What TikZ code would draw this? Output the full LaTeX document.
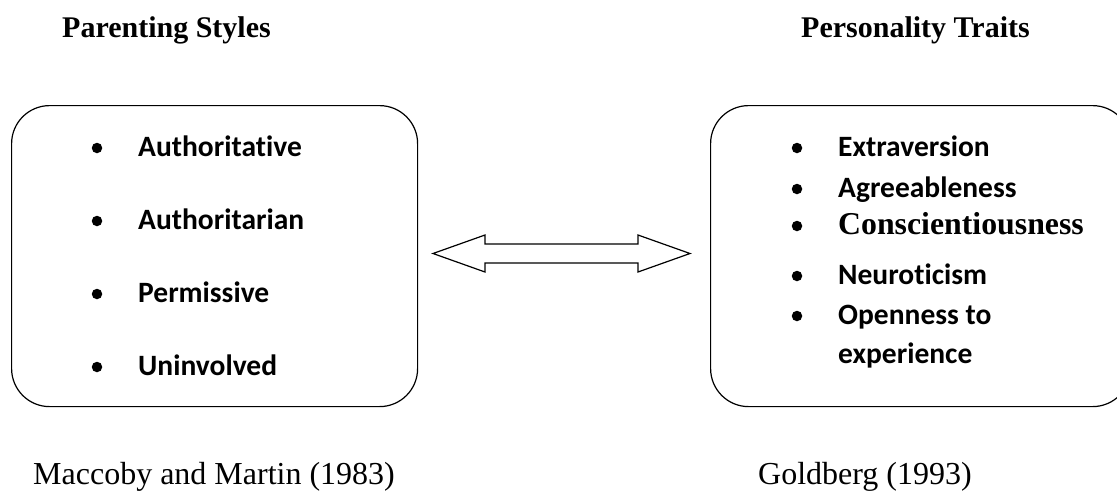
\documentclass[tikz,border=0pt]{standalone}
\usepackage{fontspec}
\setmainfont{Liberation Serif}
\newfontfamily\itemfont[Ligatures=NoCommon]{Carlito}

\tikzset{
  panel/.style={draw, line width=1.2pt, rounded corners=38pt, anchor=north west, inner sep=0pt},
  heading/.style={anchor=base west, inner sep=0pt, font=\fontsize{30}{36}\selectfont\bfseries},
  source/.style={anchor=base west, inner sep=0pt, font=\fontsize{32}{38}\selectfont},
  entry/.style={anchor=base west, inner sep=0pt, font=\itemfont\fontsize{29.5}{34}\selectfont\bfseries},
  dot/.style={circle, fill, inner sep=0pt, minimum size=10.5pt},
  outline/.style={draw, line width=1.2pt, line join=miter},
}

\begin{document}
\begin{tikzpicture}[x=1pt,y=-1pt]
    \useasboundingbox (0,0) rectangle (1117,491);
    % titles
    \node[heading] (lefttitle) at (62,37) {Parenting Styles};
    \node[heading] (righttitle) at (801,37) {Personality Traits};
    % boxes
    \node[panel, minimum width=406pt, minimum height=301pt] (styles) at (11,105) {};
    \node[panel, minimum width=420pt, minimum height=301pt] (traits) at (710,105) {};
    % left list
    \node[dot] (s1) at (97,148) {};
    \node[entry] (t1) at (138,156) {Authoritative};
    \node[dot] (s2) at (97,221) {};
    \node[entry] (t2) at (138,229) {Authoritarian};
    \node[dot] (s3) at (97,294) {};
    \node[entry] (t3) at (138,302) {Permissive};
    \node[dot] (s4) at (97,367) {};
    \node[entry] (t4) at (138,375) {Uninvolved};
    % right list
    \node[dot] (p1) at (797,148) {};
    \node[entry] (q1) at (838,156) {Extraversion};
    \node[dot] (p2) at (797,189) {};
    \node[entry] (q2) at (838,197) {Agreeableness};
    \node[dot] (p3) at (797,226) {};
    \node[anchor=base west, inner sep=0pt, font=\fontsize{31.8}{36}\selectfont\bfseries] (q3) at (838,234) {Conscientiousness};
    \node[dot] (p4) at (797,276) {};
    \node[entry] (q4) at (838,284) {Neuroticism};
    \node[dot] (p5) at (797,316) {};
    \node[entry] (q5) at (838,324) {Openness to};
    \node[entry] (q6) at (838,363) {experience};
    % link between the boxes
    \draw[outline] (433,253.5) -- (485,235) -- (485,244) -- (638,244) -- (638,235)
        -- (690,253.5) -- (638,272) -- (638,263) -- (485,263) -- (485,272) -- cycle;
    % sources
    \node[source] (leftsrc) at (33,484) {Maccoby and Martin (1983)};
    \node[source] (rightsrc) at (758,484) {Goldberg (1993)};
\end{tikzpicture}
\end{document}
